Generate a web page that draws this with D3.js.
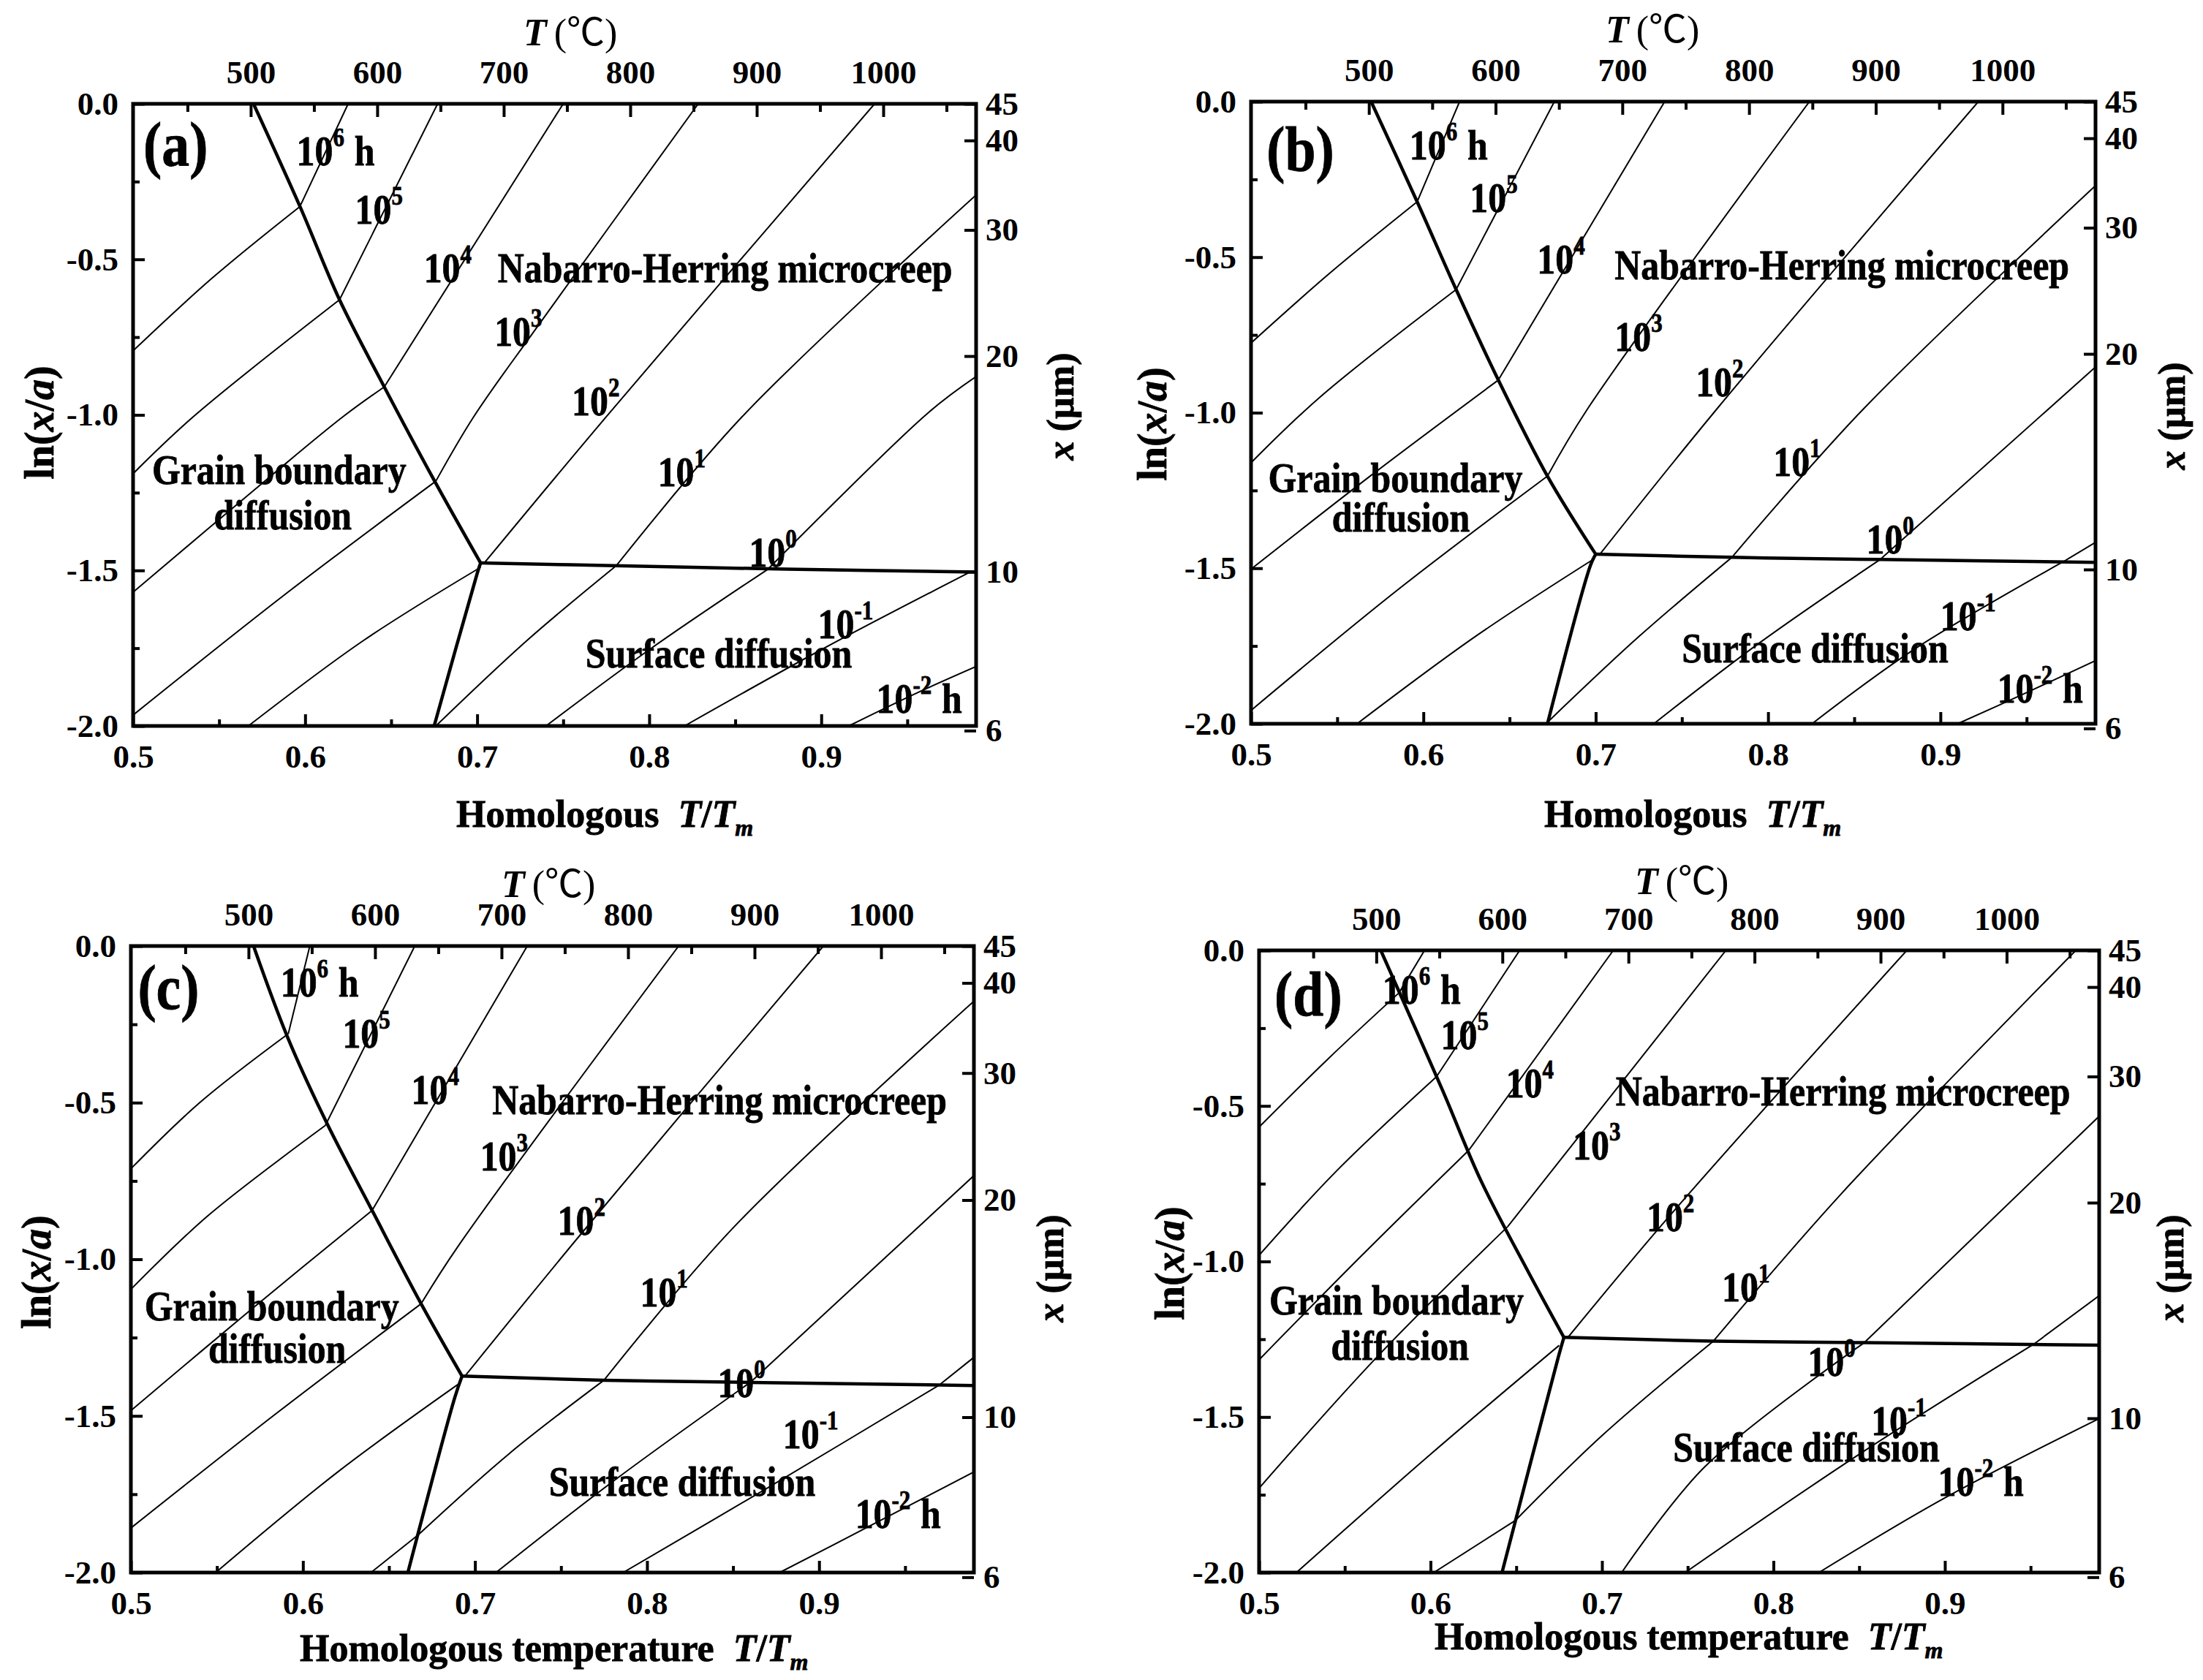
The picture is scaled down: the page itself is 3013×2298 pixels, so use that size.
<!DOCTYPE html>
<html>
<head>
<meta charset="utf-8">
<script src="https://cdn.jsdelivr.net/npm/d3@7"></script>
<style>
  body { margin: 0; background: #fff; }
  text { font-family: "Liberation Serif", "Times New Roman", "Noto Sans CJK SC", serif; font-weight: bold; fill: #000; }
  .heavy { stroke: #000; stroke-width: 0.8px; }
</style>
</head>
<body>
<script>
// homologous temperature T/Tm on x, ln(x/a) on y, iso-time contours in hours
const Tm = 1360           // K, used for the top T (°C) axis
const aSize = 45          // um, x at ln(x/a) = 0

const xTicks = [0.5, 0.6, 0.7, 0.8, 0.9]
const xMinor = [0.55, 0.65, 0.75, 0.85, 0.95]
const yTicks = [0, -0.5, -1, -1.5, -2]
const yMinor = [-0.25, -0.75, -1.25, -1.75]
const tempTicks = [500, 600, 700, 800, 900, 1000]
const tempMinor = [450, 550, 650, 750, 850, 950, 1050]
const sizeTicks = [6, 10, 20, 30, 40, 45]

// ---- panel (a)
const boundsA = [
  [[0.570, 0], [0.597, -0.33], [0.620, -0.63], [0.646, -0.91], [0.674, -1.20], [0.702, -1.476]],
  [[0.702, -1.476], [0.790, -1.486], [0.880, -1.496], [0.99, -1.505]],
  [[0.702, -1.476], [0.700, -1.51], [0.675, -2.0]]
]
const contoursA = [
  [[[0.625, 0], [0.597, -0.33]], [[0.597, -0.33], [0.546, -0.56], [0.5, -0.794]]],
  [[[0.677, 0], [0.620, -0.63]], [[0.620, -0.63], [0.535, -1.006], [0.5, -1.189]]],
  [[[0.750, 0], [0.646, -0.91]], [[0.646, -0.91], [0.622, -1.006], [0.578, -1.206], [0.5, -1.570]]],
  [[[0.8285, 0], [0.734, -0.724], [0.698, -1.006], [0.676, -1.213]], [[0.676, -1.213], [0.59, -1.57], [0.5, -1.965]]],
  [[[0.931, 0], [0.775, -1.006], [0.704, -1.477]], [[0.702, -1.49], [0.634, -1.725], [0.567, -2.0]]],
  [[[0.99, -0.293], [0.854, -1.006], [0.781, -1.484]], [[0.781, -1.484], [0.729, -1.725], [0.676, -2.0]]],
  [[[0.99, -0.877], [0.962, -0.994], [0.869, -1.496]], [[0.869, -1.496], [0.80, -1.755], [0.740, -2.0]]],
  [[[0.987, -1.504], [0.90, -1.755], [0.8205, -2.0]]],
  [[[0.99, -1.809], [0.954, -1.898], [0.916, -2.0]]]
]
const timesA = [
  ['10', '6', 'h', 0.595, -0.197], ['10', '5', '', 0.629, -0.385], ['10', '4', '', 0.669, -0.573],
  ['10', '3', '', 0.710, -0.778], ['10', '2', '', 0.755, -1.0], ['10', '1', '', 0.805, -1.23],
  ['10', '0', '', 0.858, -1.487], ['10', '-1', '', 0.898, -1.718], ['10', '-2', 'h', 0.932, -1.957]
]
const regionsA = [
  ['Nabarro-Herring microcreep', 0.712, -0.573], ['Grain boundary', 0.511, -1.222],
  ['diffusion', 0.547, -1.367], ['Surface diffusion', 0.763, -1.812]
]

// ---- panel (b)
const boundsB = [
  [[0.5697, 0], [0.5964, -0.322], [0.619, -0.604], [0.6435, -0.895], [0.672, -1.204], [0.700, -1.455]],
  [[0.700, -1.455], [0.779, -1.465], [0.865, -1.472], [0.99, -1.481]],
  [[0.700, -1.455], [0.697, -1.49], [0.672, -2.0]]
]
const contoursB = [
  [[[0.621, 0], [0.5964, -0.322]], [[0.5964, -0.322], [0.546, -0.55], [0.5, -0.776]]],
  [[[0.676, 0], [0.619, -0.604]], [[0.619, -0.604], [0.54, -0.95], [0.5, -1.161]]],
  [[[0.740, 0], [0.6435, -0.895]], [[0.6435, -0.895], [0.57, -1.2], [0.5, -1.503]]],
  [[[0.824, 0], [0.695, -0.99], [0.672, -1.204]], [[0.672, -1.204], [0.585, -1.57], [0.5, -1.957]]],
  [[[0.922, 0], [0.77, -0.99], [0.702, -1.458]], [[0.699, -1.47], [0.63, -1.72], [0.5615, -2.0]]],
  [[[0.99, -0.27], [0.855, -0.99], [0.779, -1.465]], [[0.779, -1.465], [0.725, -1.72], [0.673, -1.99]]],
  [[[0.99, -0.853], [0.865, -1.472]], [[0.865, -1.472], [0.795, -1.74], [0.7337, -2.0]]],
  [[[0.99, -1.417], [0.971, -1.48]], [[0.971, -1.48], [0.885, -1.76], [0.8255, -2.0]]],
  [[[0.99, -1.797], [0.95, -1.9], [0.91, -2.0]]]
]
const timesB = [
  ['10', '6', 'h', 0.592, -0.185], ['10', '5', '', 0.627, -0.356], ['10', '4', '', 0.666, -0.553],
  ['10', '3', '', 0.711, -0.801], ['10', '2', '', 0.758, -0.947], ['10', '1', '', 0.803, -1.204],
  ['10', '0', '', 0.857, -1.452], ['10', '-1', '', 0.900, -1.70], ['10', '-2', 'h', 0.933, -1.931]
]
const regionsB = [
  ['Nabarro-Herring microcreep', 0.711, -0.570], ['Grain boundary', 0.510, -1.255],
  ['diffusion', 0.547, -1.383], ['Surface diffusion', 0.750, -1.803]
]

// ---- panel (c)
const boundsC = [
  [[0.5713, 0], [0.591, -0.29], [0.6137, -0.563], [0.6402, -0.844], [0.6687, -1.142], [0.6925, -1.373]],
  [[0.6925, -1.373], [0.775, -1.386], [0.860, -1.393], [0.99, -1.403]],
  [[0.6925, -1.373], [0.6883, -1.441], [0.661, -2.0]]
]
const contoursC = [
  [[[0.604, 0], [0.5915, -0.28]], [[0.5915, -0.28], [0.54, -0.5], [0.5, -0.711]]],
  [[[0.665, 0], [0.613, -0.573]], [[0.613, -0.573], [0.545, -0.86], [0.5, -1.096]]],
  [[[0.7304, 0], [0.6402, -0.844]], [[0.6402, -0.844], [0.57, -1.16], [0.5, -1.483]]],
  [[[0.8184, 0], [0.69, -0.96], [0.6687, -1.142]], [[0.6687, -1.142], [0.585, -1.49], [0.5, -1.858]]],
  [[[0.9025, 0], [0.76, -0.93], [0.694, -1.374]], [[0.69, -1.40], [0.62, -1.68], [0.5493, -2.0]]],
  [[[0.99, -0.176], [0.85, -0.9], [0.775, -1.386]], [[0.775, -1.386], [0.72, -1.62], [0.667, -1.88]], [[0.667, -1.88], [0.6395, -2.0]]],
  [[[0.99, -0.733], [0.86, -1.393]], [[0.86, -1.393], [0.78, -1.71], [0.7122, -2.0]]],
  [[[0.99, -1.313], [0.97, -1.401]], [[0.97, -1.401], [0.87, -1.73], [0.7861, -2.0]]],
  [[[0.99, -1.679], [0.93, -1.85], [0.8771, -2.0]]]
]
const timesC = [
  ['10', '6', 'h', 0.587, -0.162], ['10', '5', '', 0.623, -0.324], ['10', '4', '', 0.663, -0.503],
  ['10', '3', '', 0.703, -0.716], ['10', '2', '', 0.748, -0.921], ['10', '1', '', 0.796, -1.151],
  ['10', '0', '', 0.841, -1.441], ['10', '-1', '', 0.879, -1.603], ['10', '-2', 'h', 0.921, -1.858]
]
const regionsC = [
  ['Nabarro-Herring microcreep', 0.710, -0.537], ['Grain boundary', 0.508, -1.194],
  ['diffusion', 0.545, -1.33], ['Surface diffusion', 0.743, -1.756]
]

// ---- panel (d)
const boundsD = [
  [[0.571, 0], [0.6068, -0.447], [0.6294, -0.74], [0.656, -1.023], [0.6778, -1.244]],
  [[0.6778, -1.244], [0.765, -1.256], [0.853, -1.261], [0.99, -1.269]],
  [[0.6778, -1.244], [0.6745, -1.308], [0.6417, -2.0]]
]
const contoursD = [
  [[[0.5965, 0], [0.5817, -0.136]], [[0.5817, -0.136], [0.54, -0.35], [0.5, -0.568]]],
  [[[0.652, 0], [0.6035, -0.406]], [[0.6035, -0.406], [0.545, -0.71], [0.5, -0.98]]],
  [[[0.7066, 0], [0.6224, -0.642]], [[0.6224, -0.642], [0.56, -0.98], [0.5, -1.316]]],
  [[[0.7723, 0], [0.645, -0.888]], [[0.645, -0.888], [0.57, -1.3], [0.5, -1.729]]],
  [[[0.8778, 0], [0.74, -0.85], [0.68, -1.245]], [[0.675, -1.27], [0.60, -1.62], [0.5218, -2.0]]],
  [[[0.9764, 0], [0.84, -0.78], [0.765, -1.256]], [[0.765, -1.256], [0.70, -1.56], [0.6494, -1.833]], [[0.6494, -1.833], [0.6019, -2.0]]],
  [[[0.99, -0.533], [0.853, -1.261]], [[0.853, -1.261], [0.76, -1.66], [0.7115, -2.0]]],
  [[[0.99, -1.11], [0.9518, -1.266]], [[0.9518, -1.266], [0.85, -1.62], [0.7485, -2.0]]],
  [[[0.99, -1.505], [0.90, -1.76], [0.8265, -2.0]]]
]
const timesD = [
  ['10', '6', 'h', 0.572, -0.172], ['10', '5', '', 0.606, -0.318], ['10', '4', '', 0.644, -0.473],
  ['10', '3', '', 0.683, -0.671], ['10', '2', '', 0.726, -0.903], ['10', '1', '', 0.770, -1.127],
  ['10', '0', '', 0.820, -1.367], ['10', '-1', '', 0.857, -1.557], ['10', '-2', 'h', 0.896, -1.754]
]
const regionsD = [
  ['Nabarro-Herring microcreep', 0.708, -0.499], ['Grain boundary', 0.506, -1.17],
  ['diffusion', 0.542, -1.316], ['Surface diffusion', 0.7415, -1.643]
]

// page layout of each panel (pixels)
const panels = [
  { id: 'a', L: 182, R: 1335, T: 142, B: 993, bounds: boundsA, contours: contoursA, times: timesA, regions: regionsA, tag: [0.506, -0.20],
    xTitle: 'Homologous', xTitlePos: [624, 1131], tTitlePos: [716, 62], lnPos: [54, 578], umPos: [1450, 556] },
  { id: 'b', L: 1711, R: 2866, T: 139, B: 990, bounds: boundsB, contours: contoursB, times: timesB, regions: regionsB, tag: [0.509, -0.22],
    xTitle: 'Homologous', xTitlePos: [2112, 1131], tTitlePos: [2196, 58], lnPos: [1576, 580], umPos: [2970, 569] },
  { id: 'c', L: 179, R: 1332, T: 1294, B: 2151, bounds: boundsC, contours: contoursC, times: timesC, regions: regionsC, tag: [0.504, -0.20],
    xTitle: 'Homologous temperature', xTitlePos: [410, 2272], tTitlePos: [686, 1227], lnPos: [50, 1740], umPos: [1436, 1735] },
  { id: 'd', L: 1722, R: 2871, T: 1300, B: 2151, bounds: boundsD, contours: contoursD, times: timesD, regions: regionsD, tag: [0.509, -0.21],
    xTitle: 'Homologous temperature', xTitlePos: [1962, 2256], tTitlePos: [2236, 1223], lnPos: [1600, 1728], umPos: [2968, 1735] }
]

const svg = d3.select('body').append('svg')
  .attr('width', 3013)
  .attr('height', 2298)

const styleAxis = (sel, fs) => {
  sel.attr('font-family', null).attr('font-size', fs)
  sel.select('.domain').remove()
  sel.selectAll('.tick line').attr('stroke', '#000').attr('stroke-width', 4)
}

const drawPanel = (p) => {
  const x = d3.scaleLinear().domain([0.5, 0.99]).range([p.L, p.R])
  const y = d3.scaleLinear().domain([-2, 0]).range([p.B, p.T])
  const xT = d3.scaleLinear().domain([0.5 * Tm - 273, 0.99 * Tm - 273]).range([p.L, p.R])
  const yS = d3.scaleLog().domain([aSize * Math.exp(-2), aSize]).range([p.B, p.T])

  const g = svg.append('g')
  g.append('clipPath').attr('id', 'clip-' + p.id)
    .append('rect').attr('x', p.L).attr('y', p.T).attr('width', p.R - p.L).attr('height', p.B - p.T)
  const plot = g.append('g').attr('clip-path', `url(#clip-${p.id})`)

  const line = d3.line().x((d) => x(d[0])).y((d) => y(d[1])).curve(d3.curveCatmullRom.alpha(0.5))

  // iso-time contours, each one made of segments that kink at the mechanism boundaries
  p.contours.forEach((segs) => {
    segs.forEach((s) => {
      plot.append('path').attr('d', line(s))
        .attr('fill', 'none').attr('stroke', '#000').attr('stroke-width', 2)
    })
  })
  // mechanism boundaries
  p.bounds.forEach((b) => {
    plot.append('path').attr('d', line(b))
      .attr('fill', 'none').attr('stroke', '#000').attr('stroke-width', 4.5).attr('stroke-linejoin', 'round')
  })

  // axes, ticks pointing inwards
  g.append('g').attr('transform', `translate(0,${p.B})`)
    .call(d3.axisBottom(x).tickValues(xTicks).tickSize(-16).tickPadding(25).tickFormat((d) => d.toFixed(1)))
    .call((s) => styleAxis(s, 45))
  g.append('g').attr('transform', `translate(0,${p.B})`)
    .call(d3.axisBottom(x).tickValues(xMinor).tickSize(-9).tickFormat(''))
    .call((s) => styleAxis(s, 45))
  g.append('g').attr('transform', `translate(${p.L},0)`)
    .call(d3.axisLeft(y).tickValues(yTicks).tickSize(-16).tickPadding(20).tickFormat((d) => d.toFixed(1)))
    .call((s) => styleAxis(s, 45))
  g.append('g').attr('transform', `translate(${p.L},0)`)
    .call(d3.axisLeft(y).tickValues(yMinor).tickSize(-9).tickFormat(''))
    .call((s) => styleAxis(s, 45))
  g.append('g').attr('transform', `translate(0,${p.T})`)
    .call(d3.axisTop(xT).tickValues(tempTicks).tickSize(-18).tickPadding(28).tickFormat((d) => d))
    .call((s) => styleAxis(s, 45))
  g.append('g').attr('transform', `translate(0,${p.T})`)
    .call(d3.axisTop(xT).tickValues(tempMinor).tickSize(-11).tickFormat(''))
    .call((s) => styleAxis(s, 45))
  g.append('g').attr('transform', `translate(${p.R},0)`)
    .call(d3.axisRight(yS).tickValues(sizeTicks).tickSize(-16).tickPadding(13).tickFormat((d) => d))
    .call((s) => styleAxis(s, 45))

  g.append('rect').attr('x', p.L).attr('y', p.T).attr('width', p.R - p.L).attr('height', p.B - p.T)
    .attr('fill', 'none').attr('stroke', '#000').attr('stroke-width', 5)

  // panel tag
  g.append('text').attr('class', 'heavy')
    .attr('transform', `translate(${x(p.tag[0])},${y(p.tag[1])}) scale(0.88,1)`)
    .attr('font-size', 86).text(`(${p.id})`)

  // contour time labels
  p.times.forEach((t) => {
    const el = g.append('text').attr('class', 'heavy')
      .attr('transform', `translate(${x(t[3])},${y(t[4])}) scale(0.86,1)`)
      .attr('font-size', 58)
    el.append('tspan').text(t[0])
    el.append('tspan').attr('font-size', 36).attr('dy', -26).text(t[1])
    if (t[2]) el.append('tspan').attr('dy', 26).attr('dx', 16).text(t[2])
  })

  // mechanism field names
  p.regions.forEach((r) => {
    g.append('text').attr('class', 'heavy')
      .attr('transform', `translate(${x(r[1])},${y(r[2])}) scale(0.86,1)`)
      .attr('font-size', 58).text(r[0])
  })

  // bottom title
  const xt = g.append('text').attr('class', 'heavy').attr('x', p.xTitlePos[0]).attr('y', p.xTitlePos[1]).attr('font-size', 52)
  xt.append('tspan').text(p.xTitle)
  xt.append('tspan').attr('dx', 26).attr('font-style', 'italic').text('T')
  xt.append('tspan').text('/')
  xt.append('tspan').attr('font-style', 'italic').text('T')
  xt.append('tspan').attr('font-style', 'italic').attr('font-size', 32).attr('dy', 12).text('m')

  // top title
  const tt = g.append('text').attr('x', p.tTitlePos[0]).attr('y', p.tTitlePos[1]).attr('font-size', 52)
  tt.append('tspan').attr('font-style', 'italic').text('T')
  tt.append('tspan').attr('dx', 10).attr('font-weight', 'normal').text('(\u2103)')

  // left title
  const lt = g.append('text').attr('class', 'heavy')
    .attr('transform', `translate(${p.lnPos[0]},${p.lnPos[1]}) rotate(-90)`)
    .attr('text-anchor', 'middle').attr('dominant-baseline', 'central').attr('font-size', 56)
  lt.append('tspan').text('ln(')
  lt.append('tspan').attr('font-style', 'italic').text('x')
  lt.append('tspan').text('/')
  lt.append('tspan').attr('font-style', 'italic').text('a')
  lt.append('tspan').text(')')

  // right title
  const rt = g.append('text').attr('class', 'heavy')
    .attr('transform', `translate(${p.umPos[0]},${p.umPos[1]}) rotate(-90)`)
    .attr('text-anchor', 'middle').attr('dominant-baseline', 'central').attr('font-size', 52)
  rt.append('tspan').attr('font-style', 'italic').text('x')
  rt.append('tspan').text(' (\u00b5m)')
}

panels.forEach(drawPanel)
</script>
</body>
</html>
